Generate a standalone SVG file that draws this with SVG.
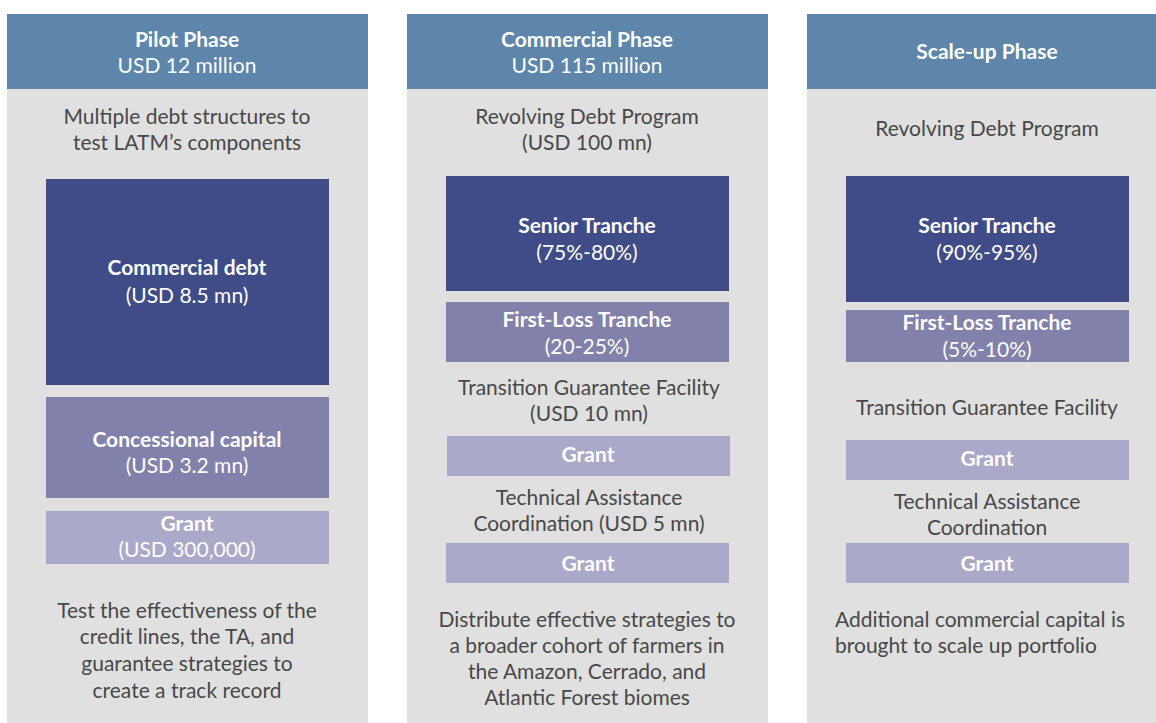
<svg xmlns="http://www.w3.org/2000/svg" width="1156" height="723" viewBox="0 0 1156 723">
<style>
.hdr{fill:#5d86aa}
.body{fill:#e0e0e0}
.navy{fill:#3f4c87}
.mid{fill:#8281ab}
.light{fill:#aba9c9}
text{font-family:Lato,"Open Sans",sans-serif;font-size:21px;text-anchor:middle}
.w{fill:#ffffff}
.g{fill:#484848}
.b{font-weight:bold}
</style>
<rect width="1156" height="723" fill="#ffffff"/>
<g id="col-pilot">
<rect class="body" x="7" y="89" width="361" height="634"/>
<rect class="hdr" x="7" y="14" width="361" height="75"/>
<text class="w b" x="187" y="47">Pilot Phase</text>
<text class="w" x="187" y="73">USD 12 million</text>
<text class="g" x="187" y="124">Multiple debt structures to</text>
<text class="g" x="187" y="150">test LATM’s components</text>
<g id="pilot-commercial"><rect class="navy" x="46" y="179" width="283" height="206"/>
<text class="w b" x="187" y="275">Commercial debt</text>
<text class="w" x="187" y="303">(USD 8.5 mn)</text></g>
<g id="pilot-concessional"><rect class="mid" x="46" y="397" width="283" height="101"/>
<text class="w b" x="187" y="447">Concessional capital</text>
<text class="w" x="187" y="473">(USD 3.2 mn)</text></g>
<g id="pilot-grant"><rect class="light" x="46" y="511" width="283" height="53"/>
<text class="w b" x="187" y="531">Grant</text>
<text class="w" x="187" y="557">(USD 300,000)</text></g>
<text class="g" x="187" y="618">Test the effectiveness of the</text>
<text class="g" x="187" y="644">credit lines, the TA, and</text>
<text class="g" x="187" y="671">guarantee strategies to</text>
<text class="g" x="187" y="698">create a track record</text>
</g>
<g id="col-commercial">
<rect class="body" x="407" y="89" width="361" height="634"/>
<rect class="hdr" x="407" y="14" width="361" height="75"/>
<text class="w b" x="587" y="47">Commercial Phase</text>
<text class="w" x="587" y="73">USD 115 million</text>
<text class="g" x="587" y="124">Revolving Debt Program</text>
<text class="g" x="587" y="150">(USD 100 mn)</text>
<g id="com-senior"><rect class="navy" x="446" y="176" width="283" height="115"/>
<text class="w b" x="587" y="233">Senior Tranche</text>
<text class="w" x="587" y="260">(75%-80%)</text></g>
<g id="com-firstloss"><rect class="mid" x="446" y="302" width="283" height="60"/>
<text class="w b" x="587" y="327">First-Loss Tranche</text>
<text class="w" x="587" y="354">(20-25%)</text></g>
<text class="g" x="589" y="395">Transition Guarantee Facility</text>
<text class="g" x="589" y="421">(USD 10 mn)</text>
<g id="com-grant1"><rect class="light" x="447" y="436" width="283" height="40"/>
<text class="w b" x="588" y="462">Grant</text></g>
<text class="g" x="589" y="505">Technical Assistance</text>
<text class="g" x="589" y="531">Coordination (USD 5 mn)</text>
<g id="com-grant2"><rect class="light" x="446" y="543" width="283" height="40"/>
<text class="w b" x="588" y="571">Grant</text></g>
<text class="g" x="587" y="627">Distribute effective strategies to</text>
<text class="g" x="587" y="653">a broader cohort of farmers in</text>
<text class="g" x="587" y="679">the Amazon, Cerrado, and</text>
<text class="g" x="587" y="705">Atlantic Forest biomes</text>
</g>
<g id="col-scaleup">
<rect class="body" x="807" y="89" width="361" height="634"/>
<rect class="hdr" x="807" y="14" width="361" height="75"/>
<text class="w b" x="987" y="59">Scale-up Phase</text>
<text class="g" x="987" y="136">Revolving Debt Program</text>
<g id="sc-senior"><rect class="navy" x="846" y="176" width="283" height="126"/>
<text class="w b" x="987" y="233">Senior Tranche</text>
<text class="w" x="987" y="260">(90%-95%)</text></g>
<g id="sc-firstloss"><rect class="mid" x="846" y="310" width="283" height="52"/>
<text class="w b" x="987" y="330">First-Loss Tranche</text>
<text class="w" x="987" y="357">(5%-10%)</text></g>
<text class="g" x="987" y="415">Transition Guarantee Facility</text>
<g id="sc-grant1"><rect class="light" x="846" y="440" width="283" height="40"/>
<text class="w b" x="987" y="466">Grant</text></g>
<text class="g" x="987" y="509">Technical Assistance</text>
<text class="g" x="987" y="535">Coordination</text>
<g id="sc-grant2"><rect class="light" x="846" y="543" width="283" height="40"/>
<text class="w b" x="987" y="571">Grant</text></g>
<text class="g" x="835" y="627" style="text-anchor:start">Additional commercial capital is</text>
<text class="g" x="835" y="653" style="text-anchor:start">brought to scale up portfolio</text>
</g>
</svg>
